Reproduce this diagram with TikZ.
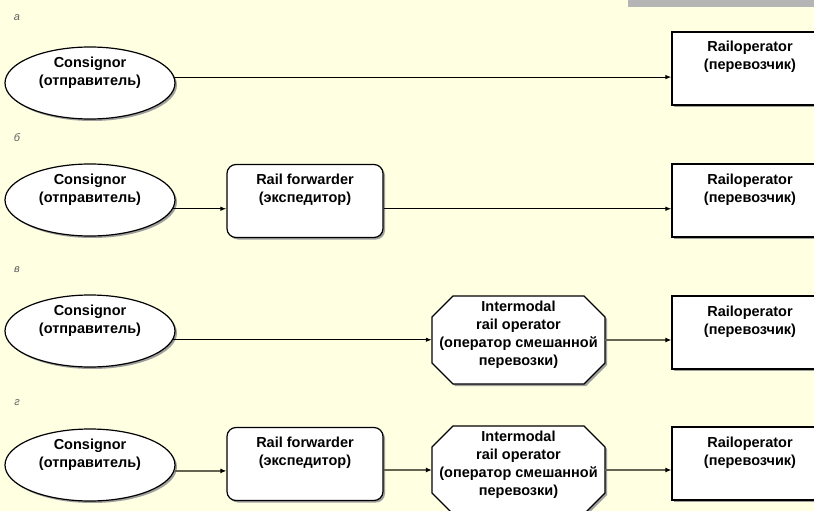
\documentclass[tikz,border=0pt]{standalone}
\usepackage{fontspec}
\setmainfont{Liberation Sans}
\usetikzlibrary{positioning,calc,arrows.meta,shapes.geometric,shadows}
\definecolor{paper}{RGB}{255,255,226}
\definecolor{topbar}{RGB}{181,181,181}
\definecolor{heavy}{RGB}{100,100,80}
\definecolor{tagc}{RGB}{95,95,95}

% octagon frame round a centre coordinate
\newcommand{\octframe}[1]{%
  \filldraw[octline] ($(#1)+(-65.5,-44)$) -- ($(#1)+(65.5,-44)$) -- ($(#1)+(86.5,-23)$)
    -- ($(#1)+(86.5,23)$) -- ($(#1)+(65.5,44)$) -- ($(#1)+(-65.5,44)$)
    -- ($(#1)+(-86.5,23)$) -- ($(#1)+(-86.5,-23)$) -- cycle;}

\begin{document}
\begin{tikzpicture}[x=1pt,y=-1pt,
    every node/.style={font=\bfseries\fontsize{14.5}{18}\selectfont,align=center},
    shade/.style={drop shadow={shadow xshift=2pt,shadow yshift=-2pt,fill=gray!75,opacity=1}},
    sender/.style={ellipse,draw=black,line width=1.2pt,fill=white,shade,minimum width=170pt,
        minimum height=72pt,inner sep=0pt,text height=24pt,text depth=20pt},
    carrier/.style={rectangle,draw=black,line width=1.2pt,fill=white,shade,minimum width=156pt,
        inner xsep=0pt,inner ysep=5pt,text height=33pt,text depth=30pt},
    forwarder/.style={carrier,rounded corners=9pt},
    octline/.style={draw=black,line width=1.2pt,fill=white,shade},
    intermodal/.style={rectangle,minimum width=173pt,minimum height=88pt,inner sep=0pt,text depth=13pt},
    tag/.style={font=\itshape\fontsize{11}{12}\selectfont,text=tagc},
    link/.style={-{Latex[length=6pt,width=4.5pt]},line width=1pt},
    biglink/.style={-{Latex[length=6pt,width=5pt,black]},line width=2.5pt,draw=heavy}]

    \fill[paper] (0,0) rectangle (814,511);
    \useasboundingbox (0,0) rectangle (814,511);
    \fill[topbar] (628,0) rectangle (814,7);

    % a
    \node (taga) [tag] at (17,18) {а};
    \node (cons1) [sender] at (90,83) {Consignor\\(отправитель)};
    \node (rop1) [carrier] at (750,68.5) {Railoperator\\(перевозчик)};

    % b
    \node (tagb) [tag] at (17,138) {б};
    \node (cons2) [sender] at (90,200) {Consignor\\(отправитель)};
    \node (fwd2) [forwarder] at (305,201) {Rail forwarder\\(экспедитор)};
    \node (rop2) [carrier] at (750,200.5) {Railoperator\\(перевозчик)};

    % v
    \node (tagv) [tag] at (17,270) {в};
    \node (cons3) [sender] at (90,331) {Consignor\\(отправитель)};
    \coordinate (oct3c) at (518.5,340);
    \octframe{oct3c}
    \node (oct3) [intermodal] at (oct3c) {Intermodal\\rail operator\\(оператор смешанной\\перевозки)};
    \node (rop3) [carrier] at (750,332.5) {Railoperator\\(перевозчик)};

    % g
    \node (tagg) [tag] at (17,403) {г};
    \node (cons4) [sender] at (90,465) {Consignor\\(отправитель)};
    \node (fwd4) [forwarder] at (305,464) {Rail forwarder\\(экспедитор)};
    \coordinate (oct4c) at (518.5,470);
    \octframe{oct4c}
    \node (oct4) [intermodal] at (oct4c) {Intermodal\\rail operator\\(оператор смешанной\\перевозки)};
    \node (rop4) [carrier] at (750,463.5) {Railoperator\\(перевозчик)};

    % Arrows
    \draw[link] (cons1.4) -- (cons1.4 -| rop1.west);
    \draw[link] (cons2.-6) -- (cons2.-6 -| fwd2.west);
    \draw[link] (cons2.-6 -| fwd2.east) -- (cons2.-6 -| rop2.west);
    \draw[link] (cons3.-6) -- (cons3.-6 -| oct3.west);
    \draw[biglink] (oct3.east) -- (oct3.east -| rop3.west);
    \draw[biglink] (cons4.-4) -- (cons4.-4 -| fwd4.west);
    \draw[biglink] (fwd4.east |- oct4.west) -- (oct4.west);
    \draw[biglink] (oct4.east) -- (oct4.east -| rop4.west);
\end{tikzpicture}
\end{document}
